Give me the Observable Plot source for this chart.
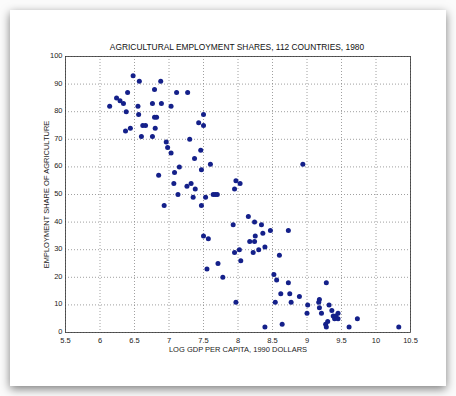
<!DOCTYPE html>
<html>
<head>
<meta charset="utf-8">
<script src="https://cdn.jsdelivr.net/npm/d3@7"></script>
<script src="https://cdn.jsdelivr.net/npm/@observablehq/plot@0.6"></script>
<style>
  html, body { margin: 0; padding: 0; background: #fff; }
  #wrap { position: relative; width: 456px; height: 396px; overflow: hidden; background: #fbfbfb; }
  #card { position: absolute; left: 10px; top: 10px; width: 436px; height: 376px; background: #fff;
          box-shadow: 0 3px 9px rgba(0,0,0,0.5); }
  #title { position: absolute; left: 0; width: 474px; top: 42px; text-align: center;
           font: 8.4px "Liberation Sans", Arial, sans-serif; color: #111; }
  #chart { position: absolute; left: 0; top: 0; }
</style>
</head>
<body>
<div id="wrap">
  <div id="card"></div>
  <div id="title">AGRICULTURAL EMPLOYMENT SHARES, 112 COUNTRIES, 1980</div>
  <div id="chart"></div>
</div>
<script>
const logGdp = [6.14,6.24,6.29,6.34,6.38,6.40,6.37,6.44,6.48,6.57,6.55,6.56,6.60,6.62,6.66,6.76,6.76,6.79,6.79,6.82,6.80,6.88,6.89,6.85,6.93,6.96,6.98,7.03,7.03,7.11,7.27,7.08,7.15,7.07,7.13,7.26,7.32,7.30,7.37,7.38,7.35,7.43,7.50,7.50,7.46,7.47,7.47,7.53,7.60,7.64,7.67,7.70,7.50,7.57,7.55,7.71,7.78,7.95,7.97,8.03,7.93,7.95,8.02,8.04,7.97,8.15,8.24,8.17,8.24,8.25,8.22,8.30,8.34,8.36,8.39,8.47,8.39,8.60,8.52,8.56,8.62,8.54,8.64,8.73,8.73,8.75,8.77,8.89,8.94,9.00,9.01,9.17,9.18,9.18,9.21,9.28,9.27,9.28,9.30,9.32,9.36,9.38,9.40,9.42,9.45,9.45,9.61,9.73,10.33];
const agShare = [82,85,84,83,80,87,73,74,93,91,82,79,71,75,75,83,71,88,78,78,74,91,83,57,46,69,67,65,82,87,87,58,60,54,50,53,54,70,63,52,49,76,79,75,66,59,46,49,61,50,50,50,35,34,23,25,20,52,55,54,39,29,30,26,11,42,40,33,33,35,29,30,39,36,31,37,2,28,21,19,14,11,3,37,18,14,11,13,61,7,10,11,12,9,7,18,3,2,4,10,8,6,5,6,7,5,2,5,2];
const xTicks = [5.5,6,6.5,7,7.5,8,8.5,9,9.5,10,10.5];
const yTicks = [0,10,20,30,40,50,60,70,80,90,100];
const xLabel = "LOG GDP PER CAPITA, 1990 DOLLARS";
const yLabel = "EMPLOYMENT SHARE OF AGRICULTURE";

const data = logGdp.map((x, i) => ({x, y: agShare[i]}));

const chart = Plot.plot({
  width: 456,
  height: 396,
  marginLeft: 65,
  marginRight: 46,
  marginTop: 56,
  marginBottom: 64,
  style: {background: "transparent", fontFamily: "'Liberation Sans', Arial, sans-serif", fontSize: "7.5px", color: "#222"},
  x: {domain: [5.5, 10.5], ticks: xTicks},
  y: {domain: [0, 100], ticks: yTicks},
  marks: [
    Plot.gridX(xTicks, {stroke: "#888", strokeOpacity: 1, strokeDasharray: "1,2", strokeWidth: 0.8}),
    Plot.gridY(yTicks, {stroke: "#888", strokeOpacity: 1, strokeDasharray: "1,2", strokeWidth: 0.8}),
    Plot.frame({stroke: "#333", strokeWidth: 0.8}),
    Plot.axisX(xTicks, {tickSize: 0, tickPadding: 5, tickFormat: d => String(d), fontSize: 7.5,
      label: xLabel, labelAnchor: "center", labelArrow: "none", labelOffset: 19}),
    Plot.axisY(yTicks, {tickSize: 0, tickPadding: 3, dy: -1, tickFormat: d => String(d), fontSize: 7.5,
      label: yLabel, labelAnchor: "center", labelArrow: "none", labelOffset: 22}),
    Plot.dot(data, {x: "x", y: "y", r: 2.5, fill: "#14208a", stroke: "none"})
  ]
});
document.getElementById("chart").appendChild(chart);
</script>
</body>
</html>
